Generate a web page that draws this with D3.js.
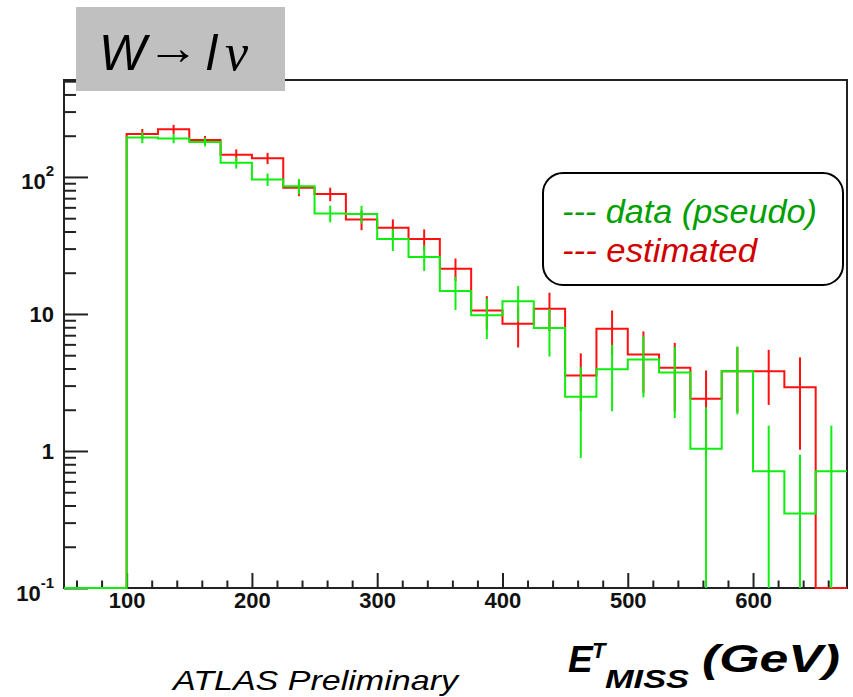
<!DOCTYPE html>
<html>
<head>
<meta charset="utf-8">
<script src="https://cdn.jsdelivr.net/npm/d3@7"></script>
<style>
  body { margin: 0; background: #fff; }
  svg { display: block; font-family: 'Liberation Sans', Arial, sans-serif; }
</style>
</head>
<body>
<svg id="chart" width="853" height="697"></svg>
<script>
// bins of E_T miss (GeV), 25 GeV wide
const binStart = [50, 75, 100, 125, 150, 175, 200, 225, 250, 275, 300, 325, 350,
  375, 400, 425, 450, 475, 500, 525, 550, 575, 600, 625, 650];
const binWidth = 25;

const estimated = [0, 0, 206, 223, 186, 145, 137, 83.4, 75, 49, 42.5, 35.2, 21.4,
  10.6, 8.49, 10.9, 3.56, 7.8, 5.06, 4.05, 2.41, 3.82, 3.82, 2.92, 0];
const estimatedErr = [0, 0, 18, 17, 13, 14, 13, 11, 8.5, 8.1, 6.5, 6.2, 4.0,
  2.9, 2.8, 3.4, 1.6, 2.8, 2.4, 2.1, 1.46, 1.9, 1.65, 1.9, 0];

const pseudoData = [0, 0, 194, 191, 180, 127, 96, 85.7, 54.2, 53.6, 35.2, 26.1, 14.7,
  9.77, 12.4, 7.89, 2.49, 3.95, 4.66, 3.74, 1.04, 3.82, 0.71, 0.35, 0.71];
const pseudoDataErr = [0, 0, 18, 15, 13, 12, 10, 11, 7.6, 8, 6.4, 5.5, 4.0,
  3.2, 3.6, 3.0, 1.6, 2.0, 2.2, 2.0, 1.04, 1.97, 0.82, 0.59, 0.82];

const xMajorTicks = [100, 200, 300, 400, 500, 600];
const yMajorTicks = [0.1, 1, 10, 100];
const yTickLabels = [['10', '-1'], ['1', ''], ['10', ''], ['10', '2']];

const svg = d3.select('#chart');
const frame = { left: 64, top: 80, right: 847, bottom: 588 };

const x = d3.scaleLinear().domain([50, 675]).range([frame.left, frame.right]);
const y = d3.scaleLog().domain([0.1, 510]).range([frame.bottom, frame.top]).clamp(true);
const yv = v => v > 0 ? y(v) : frame.bottom;

// axes: ticks point into the frame, like ROOT
const xMinor = d3.range(60, 675, 20).filter(v => v % 100 !== 0);
const yMinor = [];
for (const d of yMajorTicks.concat([1000])) {
  for (let k = 2; k <= 9; k++) {
    if (k * d < 510) yMinor.push(k * d);
  }
}

const axes = svg.append('g').attr('class', 'axes');
axes.append('g')
  .attr('transform', `translate(0,${frame.bottom})`)
  .call(d3.axisBottom(x).tickValues(xMinor).tickSize(-7.5).tickFormat(''));
axes.append('g')
  .attr('transform', `translate(0,${frame.bottom})`)
  .call(d3.axisBottom(x).tickValues(xMajorTicks).tickSize(-15).tickPadding(4));
axes.append('g')
  .attr('transform', `translate(${frame.left},0)`)
  .call(d3.axisLeft(y).tickValues(yMinor).tickSize(-12).tickFormat(''));
axes.append('g')
  .attr('transform', `translate(${frame.left},0)`)
  .call(d3.axisLeft(y).tickValues(yMajorTicks).tickSize(-24).tickFormat(''));

axes.selectAll('.domain').remove();
axes.selectAll('.tick line').attr('stroke', '#222').attr('stroke-width', 2);
axes.selectAll('.tick text')
  .attr('font-size', 22)
  .attr('font-weight', 'bold')
  .attr('fill', '#111');

// y labels with exponents
const yLabels = axes.append('g').selectAll('text')
  .data(yMajorTicks)
  .join('text')
  .attr('x', 54)
  .attr('y', (d, i) => y(d) + (yTickLabels[i][1] ? 12.5 : 8.5))
  .attr('text-anchor', 'end')
  .attr('font-size', 22)
  .attr('font-weight', 'bold')
  .attr('fill', '#111');
yLabels.append('tspan').text((d, i) => yTickLabels[i][0]);
yLabels.append('tspan')
  .attr('dy', -13)
  .attr('font-size', 15)
  .text((d, i) => yTickLabels[i][1]);

svg.append('rect')
  .attr('x', frame.left).attr('y', frame.top)
  .attr('width', frame.right - frame.left).attr('height', frame.bottom - frame.top)
  .attr('fill', 'none').attr('stroke', '#222').attr('stroke-width', 2);

// histograms
const line = d3.line();
function drawHist (values, errors, color) {
  const pts = [];
  binStart.forEach((s, i) => {
    pts.push([x(s), yv(values[i])], [x(s + binWidth), yv(values[i])]);
  });
  const g = svg.append('g');
  g.append('path')
    .attr('d', line(pts))
    .attr('fill', 'none')
    .attr('stroke', color)
    .attr('stroke-width', 2);
  g.selectAll('line')
    .data(binStart.map((s, i) => ({ s, v: values[i], e: errors[i] })).filter(d => d.v > 0))
    .join('line')
    .attr('x1', d => x(d.s + binWidth / 2))
    .attr('x2', d => x(d.s + binWidth / 2))
    .attr('y1', d => yv(d.v + d.e))
    .attr('y2', d => yv(d.v - d.e))
    .attr('stroke', color)
    .attr('stroke-width', 2);
}
drawHist(estimated, estimatedErr, '#ff1010');
drawHist(pseudoData, pseudoDataErr, '#10ee10');

// legend
svg.append('rect')
  .attr('x', 543).attr('y', 173).attr('width', 300).attr('height', 112).attr('rx', 20)
  .attr('fill', '#fff').attr('stroke', '#000').attr('stroke-width', 2);
svg.append('text')
  .attr('x', 562).attr('y', 223)
  .attr('font-size', 34).attr('font-style', 'italic').attr('fill', '#00a000')
  .attr('textLength', 255).attr('lengthAdjust', 'spacingAndGlyphs')
  .text('--- data (pseudo)');
svg.append('text')
  .attr('x', 562).attr('y', 262)
  .attr('font-size', 34).attr('font-style', 'italic').attr('fill', '#d00000')
  .attr('textLength', 195).attr('lengthAdjust', 'spacingAndGlyphs')
  .text('--- estimated');

// title box
svg.append('rect')
  .attr('x', 76).attr('y', 7).attr('width', 209).attr('height', 84)
  .attr('fill', '#c0c0c0');
const title = svg.append('g').attr('fill', '#000');
title.append('text').attr('x', 99).attr('y', 70)
  .attr('font-size', 50).attr('font-style', 'italic').text('W');
title.append('text').attr('x', 147).attr('y', 64)
  .attr('font-size', 48).attr('textLength', 52).attr('lengthAdjust', 'spacingAndGlyphs')
  .text('→');
title.append('text').attr('x', 206).attr('y', 70)
  .attr('font-size', 50).attr('font-style', 'italic').text('l');
title.append('text').attr('x', 225).attr('y', 70)
  .attr('font-family', "'Liberation Serif', serif")
  .attr('font-size', 52).attr('font-style', 'italic').text('ν');

// axis title and note
const xt = svg.append('g').attr('font-weight', 'bold').attr('font-style', 'italic').attr('fill', '#000');
xt.append('text').attr('x', 568).attr('y', 672).attr('font-size', 37).text('E');
xt.append('text').attr('x', 592).attr('y', 658).attr('font-size', 22).text('T');
xt.append('text').attr('x', 605).attr('y', 688).attr('font-size', 26)
  .attr('textLength', 84).attr('lengthAdjust', 'spacingAndGlyphs').text('MISS');
xt.append('text').attr('x', 702).attr('y', 672).attr('font-size', 38)
  .attr('textLength', 138).attr('lengthAdjust', 'spacingAndGlyphs').text('(GeV)');

svg.append('text')
  .attr('x', 173).attr('y', 690)
  .attr('font-size', 28).attr('font-style', 'italic').attr('fill', '#000')
  .attr('textLength', 285).attr('lengthAdjust', 'spacingAndGlyphs')
  .text('ATLAS Preliminary');
</script>
</body>
</html>
